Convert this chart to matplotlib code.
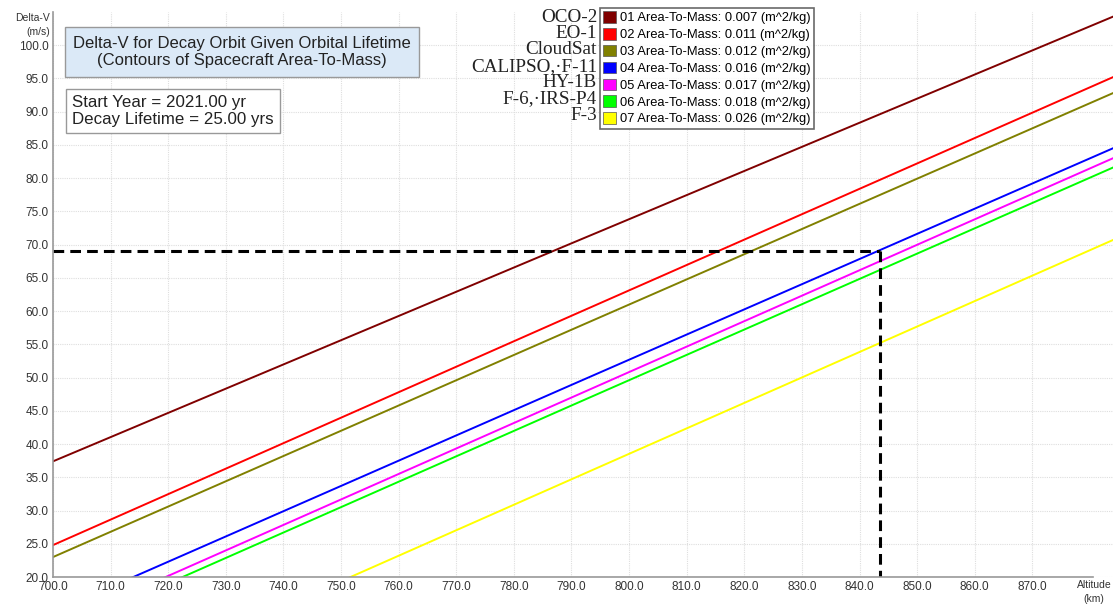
import numpy as np
import matplotlib
matplotlib.use("Agg")
import matplotlib.pyplot as plt
from matplotlib.patches import Patch

# altitudes (km) where each contour is sampled, delta-v (m/s) per spacecraft
altitud = [700.0, 790.0, 884.0]
oco2 = [37.4, 70.2, 104.3]
eo1 = [24.8, 59.3, 95.2]
cloudsat = [23.0, 57.2, 92.8]
calipso = [14.7, 48.9, 84.5]
hy1b = [12.5, 47.0, 83.0]
f6 = [11.4, 45.8, 81.6]
f3 = [0.2, 34.7, 70.7]

nombres = ["OCO-2", "EO-1", "CloudSat", "CALIPSO,\u00b7F-11", "HY-1B", "F-6,\u00b7IRS-P4", "F-3"]
area_masa = [0.007, 0.011, 0.012, 0.016, 0.017, 0.018, 0.026]
colores = ["#800000", "#ff0000", "#808000", "#0000ff", "#ff00ff", "#00ff00", "#ffff00"]
series = [oco2, eo1, cloudsat, calipso, hy1b, f6, f3]

# punto de lectura (altitud / delta-v)
alt_lectura = 843.5
dv_lectura = 69.0

xticks = np.arange(700, 871, 10)
yticks = np.arange(20, 101, 5)

plt.rcParams['font.family'] = ['Liberation Sans', 'DejaVu Sans']

fig = plt.figure(figsize=(11.13, 6.09), dpi=100)
ax = fig.add_axes([53 / 1113, 1 - 577 / 609, 1 - 53 / 1113, (577 - 12) / 609])

for y, c in zip(series, colores):
    ax.plot(altitud, y, color=c, linewidth=1.4)

# lineas de lectura
ax.plot([700, alt_lectura], [dv_lectura, dv_lectura], color='black', linewidth=2.2,
        linestyle=(0, (3.5, 2)))
ax.plot([alt_lectura, alt_lectura], [dv_lectura, 20], color='black', linewidth=2.2,
        linestyle=(0, (3.5, 2)))

ax.set_xlim(700, 884)
ax.set_ylim(20, 105)
ax.set_xticks(xticks)
ax.set_yticks(yticks)
ax.set_xticklabels([f"{v:.1f}" for v in xticks])
ax.set_yticklabels([f"{v:.1f}" for v in yticks])
ax.tick_params(length=0, labelsize=8.5, labelcolor='#333333', pad=3)
ax.grid(True, color='#dedede', linestyle=(0, (1, 1)), linewidth=0.8)
ax.set_axisbelow(True)

for s in ['top', 'right']:
    ax.spines[s].set_visible(False)
for s in ['left', 'bottom']:
    ax.spines[s].set_color('#999999')
    ax.spines[s].set_linewidth(1.2)
ax.spines['bottom'].set_bounds(700, 880.5)

fig.text(50 / 1113, 1 - 18 / 609, "Delta-V", ha='right', va='center', fontsize=7.5, color='#333333')
fig.text(50 / 1113, 1 - 32 / 609, "(m/s)", ha='right', va='center', fontsize=7.5, color='#333333')
fig.text(1094 / 1113, 1 - 585 / 609, "Altitude", ha='center', va='center', fontsize=7.5, color='#333333')
fig.text(1094 / 1113, 1 - 599 / 609, "(km)", ha='center', va='center', fontsize=7.5, color='#333333')

# titulo y parametros
fig.text(242 / 1113, 1 - 52 / 609,
         "Delta-V for Decay Orbit Given Orbital Lifetime\n(Contours of Spacecraft Area-To-Mass)",
         ha='center', va='center', fontsize=12.0, color='#222222', linespacing=1.2,
         bbox=dict(boxstyle='square,pad=0.5', facecolor='#dbe9f7', edgecolor='#999999', linewidth=1))
fig.text(72 / 1113, 1 - 111 / 609,
         "Start Year = 2021.00 yr\nDecay Lifetime = 25.00 yrs",
         ha='left', va='center', fontsize=12.2, color='#222222', linespacing=1.15,
         bbox=dict(boxstyle='square,pad=0.35', facecolor='white', edgecolor='#999999', linewidth=1))

# leyenda con los nombres de los satelites a la izquierda
handles = [Patch(facecolor=c, edgecolor='#555555', linewidth=0.5) for c in colores]
labels = [f"{i + 1:02d} Area-To-Mass: {a:.3f} (m^2/kg)" for i, a in enumerate(area_masa)]
leg = fig.legend(handles, labels, loc='upper left', bbox_to_anchor=(600 / 1113, 1 - 8 / 609),
                 fontsize=9.3, frameon=True, fancybox=False, edgecolor='#444444',
                 handlelength=1.0, handleheight=1.0, handletextpad=0.3,
                 labelspacing=0.28, borderpad=0.25, borderaxespad=0)
leg.get_frame().set_linewidth(1.2)

fila0 = 17
paso = 16.4
for i, n in enumerate(nombres):
    fig.text(597 / 1113, 1 - (fila0 + i * paso) / 609, n, ha='right', va='center',
             fontsize=13.8, family=['Liberation Serif', 'DejaVu Serif'], color='#222222')

fig.savefig("out.png", dpi=100)
